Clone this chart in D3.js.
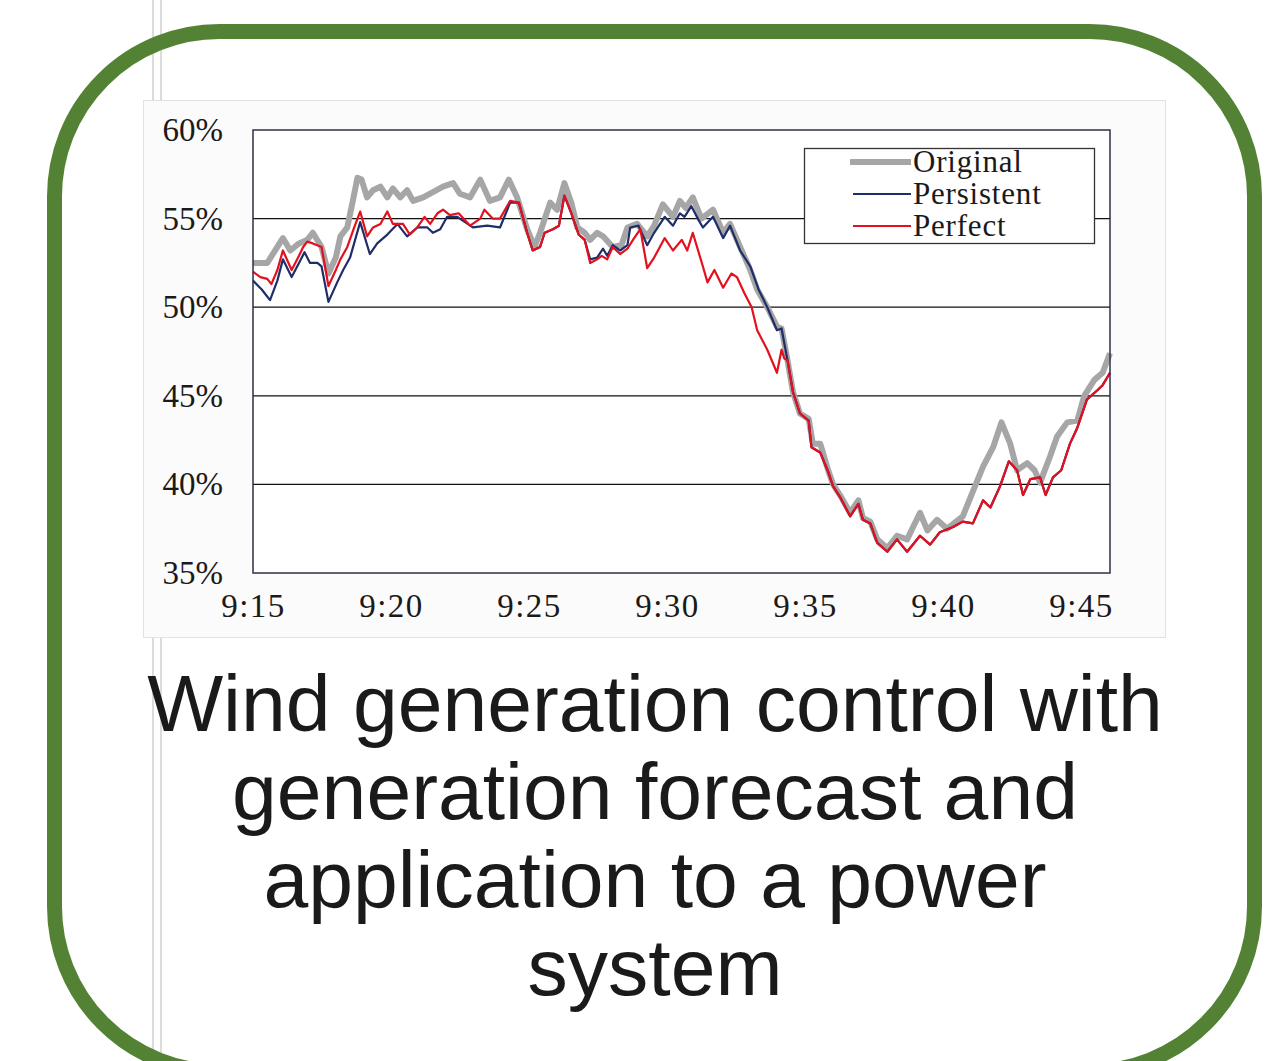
<!DOCTYPE html>
<html>
<head>
<meta charset="utf-8">
<script src="https://cdn.jsdelivr.net/npm/d3@7"></script>
<style>
  html, body { margin: 0; padding: 0; background: #fff; }
  svg { display: block; }
</style>
</head>
<body>
<svg id="slide" width="1287" height="1061"></svg>
<script>
// minutes after 9:15, value in %
var original = [
  [0, 52.5], [0.52, 52.5], [0.88, 53.4], [1.09, 53.9], [1.35, 53.2], [1.66, 53.6], [1.97, 53.8], [2.17, 54.2],
  [2.48, 53.4], [2.74, 51.9], [3.0, 52.8], [3.16, 54.0], [3.42, 54.5], [3.62, 56.0], [3.78, 57.3], [3.93, 57.2],
  [4.14, 56.2], [4.35, 56.6], [4.61, 56.8], [4.87, 56.2], [5.07, 56.7], [5.33, 56.2], [5.59, 56.6], [5.8, 56.0],
  [6.16, 56.2], [6.52, 56.5], [6.88, 56.8], [7.25, 57.0], [7.5, 56.4], [7.87, 56.2], [8.23, 57.2], [8.59, 56.0],
  [8.95, 56.2], [9.26, 57.2], [9.57, 56.2], [9.94, 54.4], [10.2, 53.4], [10.4, 54.2], [10.77, 55.9], [11.02, 55.5],
  [11.28, 57.0], [11.54, 55.9], [11.75, 54.5], [12.01, 54.2], [12.21, 53.8], [12.47, 54.2], [12.68, 54.0], [13.04, 53.4],
  [13.35, 53.5], [13.56, 54.5], [13.92, 54.7], [14.28, 54.0], [14.54, 54.6], [14.85, 55.8], [15.22, 55.1], [15.47, 56.0],
  [15.68, 55.6], [15.94, 56.2], [16.25, 55.0], [16.67, 55.5], [17.03, 54.2], [17.29, 54.7], [17.65, 53.4], [18.01, 52.1],
  [18.27, 51.0], [18.63, 50.0], [18.99, 48.9], [19.15, 48.8], [19.36, 47.0], [19.56, 45.2], [19.82, 44.0], [20.13, 43.7],
  [20.29, 42.3], [20.55, 42.3], [20.81, 40.9], [21.01, 40.0], [21.27, 39.4], [21.63, 38.4], [21.94, 39.1], [22.1, 38.1],
  [22.36, 37.9], [22.62, 36.9], [22.98, 36.4], [23.34, 37.1], [23.7, 36.9], [24.17, 38.4], [24.43, 37.4], [24.79, 38.0],
  [25.15, 37.5], [25.72, 38.2], [26.08, 39.6], [26.45, 41.0], [26.81, 42.1], [27.12, 43.5], [27.43, 42.3], [27.69, 40.8],
  [28.05, 41.2], [28.31, 40.8], [28.52, 40.1], [28.88, 41.6], [29.14, 42.7], [29.5, 43.5], [29.86, 43.6], [30.12, 45.0],
  [30.48, 45.9], [30.79, 46.3], [31.05, 47.4]
];

var persistent = [
  [0, 51.5], [0.31, 51.0], [0.62, 50.4], [0.88, 51.5], [1.09, 52.7], [1.4, 51.7], [1.66, 52.5], [1.86, 53.1],
  [2.07, 52.5], [2.33, 52.5], [2.48, 52.3], [2.74, 50.3], [3.05, 51.4], [3.26, 52.1], [3.52, 52.8], [3.88, 54.8],
  [4.24, 53.0], [4.5, 53.6], [4.87, 54.1], [5.23, 54.7], [5.59, 54.0], [5.95, 54.5], [6.31, 54.5], [6.52, 54.2],
  [6.78, 54.4], [7.04, 55.1], [7.4, 55.1], [7.97, 54.5], [8.49, 54.6], [8.95, 54.5], [9.32, 55.9], [9.63, 55.9],
  [9.94, 54.2], [10.14, 53.2], [10.4, 53.4], [10.56, 54.2], [10.87, 54.4], [11.08, 54.6], [11.28, 56.3], [11.54, 55.3],
  [11.8, 54.1], [12.01, 53.8], [12.21, 52.7], [12.47, 52.8], [12.68, 53.3], [12.84, 52.9], [13.04, 53.5], [13.3, 53.2],
  [13.56, 53.5], [13.66, 54.5], [13.97, 54.6], [14.28, 53.5], [14.54, 54.2], [14.91, 55.1], [15.22, 54.6], [15.47, 55.3],
  [15.63, 55.1], [15.89, 55.7], [16.15, 54.9], [16.3, 54.5], [16.67, 55.1], [17.03, 53.9], [17.29, 54.6], [17.65, 53.2],
  [18.01, 52.3], [18.32, 51.0], [18.63, 50.0], [18.99, 48.7], [19.15, 48.8], [19.36, 47.0], [19.56, 45.2], [19.82, 44.0],
  [20.13, 43.6], [20.24, 42.1], [20.55, 41.8], [20.81, 40.8], [21.01, 39.9], [21.27, 39.3], [21.63, 38.2], [21.94, 38.9],
  [22.1, 38.0], [22.36, 37.8], [22.62, 36.7], [22.98, 36.2], [23.34, 36.9], [23.7, 36.2], [24.17, 37.1], [24.53, 36.6],
  [24.89, 37.3], [25.36, 37.6], [25.72, 37.9], [26.08, 37.8], [26.45, 39.1], [26.71, 38.7], [27.07, 39.9], [27.38, 41.3],
  [27.69, 40.8], [27.9, 39.4], [28.16, 40.3], [28.52, 40.4], [28.72, 39.4], [28.98, 40.4], [29.29, 40.8], [29.6, 42.3],
  [29.86, 43.2], [30.22, 44.8], [30.59, 45.3], [30.79, 45.6], [31.05, 46.3]
];

var perfect = [
  [0, 52.0], [0.26, 51.7], [0.52, 51.6], [0.67, 51.3], [0.88, 52.1], [1.09, 53.2], [1.4, 52.1], [1.66, 52.9],
  [1.81, 53.4], [1.97, 53.7], [2.17, 53.6], [2.48, 53.4], [2.74, 51.2], [3.0, 52.1], [3.16, 52.7], [3.42, 53.4],
  [3.67, 54.5], [3.88, 55.4], [4.14, 54.0], [4.35, 54.5], [4.61, 54.7], [4.87, 55.4], [5.07, 54.7], [5.43, 54.7],
  [5.69, 54.1], [5.95, 54.5], [6.21, 55.1], [6.42, 54.7], [6.68, 55.3], [6.88, 55.5], [7.14, 55.2], [7.45, 55.3],
  [7.87, 54.6], [8.23, 55.0], [8.38, 55.5], [8.69, 55.0], [8.95, 55.0], [9.32, 56.0], [9.63, 55.9], [9.94, 54.2],
  [10.14, 53.2], [10.4, 53.4], [10.56, 54.2], [10.87, 54.4], [11.08, 54.6], [11.28, 56.3], [11.54, 55.3], [11.8, 54.1],
  [12.01, 53.8], [12.21, 52.5], [12.47, 52.7], [12.63, 52.9], [12.84, 52.7], [13.04, 53.4], [13.3, 53.0], [13.56, 53.3],
  [13.77, 53.8], [14.03, 54.4], [14.28, 52.2], [14.54, 52.8], [14.91, 53.9], [15.22, 53.2], [15.53, 53.8], [15.73, 53.2],
  [15.94, 54.2], [16.3, 52.3], [16.46, 51.4], [16.72, 52.1], [17.03, 51.1], [17.34, 51.9], [17.54, 51.7], [17.8, 50.8],
  [18.06, 50.0], [18.27, 48.7], [18.63, 47.6], [18.99, 46.3], [19.15, 47.6], [19.25, 47.1], [19.36, 47.0], [19.56, 45.2],
  [19.82, 44.0], [20.13, 43.6], [20.24, 42.1], [20.55, 41.8], [20.81, 40.8], [21.01, 39.9], [21.27, 39.3], [21.63, 38.2],
  [21.94, 38.9], [22.1, 38.0], [22.36, 37.8], [22.62, 36.7], [22.98, 36.2], [23.34, 36.9], [23.7, 36.2], [24.17, 37.1],
  [24.53, 36.6], [24.89, 37.3], [25.36, 37.6], [25.72, 37.9], [26.08, 37.8], [26.45, 39.1], [26.71, 38.7], [27.07, 39.9],
  [27.38, 41.3], [27.69, 40.8], [27.9, 39.4], [28.16, 40.3], [28.52, 40.4], [28.72, 39.4], [28.98, 40.4], [29.29, 40.8],
  [29.6, 42.3], [29.86, 43.2], [30.22, 44.8], [30.59, 45.3], [30.79, 45.6], [31.05, 46.3]
];

var seriesNames = ['Original', 'Persistent', 'Perfect'];
var yTicks = [35, 40, 45, 50, 55, 60];
var gridValues = [40, 45, 50, 55];
var xTickMinutes = [0, 5, 10, 15, 20, 25, 30];
var xEndMinute = 31.05;
var titleLines = ['Wind generation control with', 'generation forecast and', 'application to a power', 'system'];

var svg = d3.select('#slide');

// page edges behind the slide frame
svg.selectAll('.edge')
  .data([153, 161])
  .enter().append('line')
  .attr('x1', function (d) { return d; })
  .attr('x2', function (d) { return d; })
  .attr('y1', 0).attr('y2', 1061)
  .attr('stroke', '#cfcfcf')
  .attr('stroke-width', 1.5);

// green rounded frame
svg.append('rect')
  .attr('x', 54.5).attr('y', 31.5)
  .attr('width', 1200).attr('height', 1040)
  .attr('rx', 165).attr('ry', 165)
  .attr('fill', 'none')
  .attr('stroke', '#548235')
  .attr('stroke-width', 15);

// pasted chart picture background
svg.append('rect')
  .attr('x', 143.5).attr('y', 100.5)
  .attr('width', 1022).attr('height', 537)
  .attr('fill', '#fbfbfb')
  .attr('stroke', '#e2e2e2')
  .attr('stroke-width', 1);

var margin = { top: 130, left: 253, right: 1110, bottom: 573 };

var base = new Date(2000, 0, 1, 9, 15);
function toTime(m) { return d3.timeSecond.offset(base, Math.round(m * 60)); }

var x = d3.scaleTime()
  .domain([base, toTime(xEndMinute)])
  .range([margin.left, margin.right]);

var y = d3.scaleLinear()
  .domain([35, 60])
  .range([margin.bottom, margin.top]);

var chart = svg.append('g');

chart.append('rect')
  .attr('x', margin.left).attr('y', margin.top)
  .attr('width', margin.right - margin.left)
  .attr('height', margin.bottom - margin.top)
  .attr('fill', '#fff');

// gridlines
chart.selectAll('.grid')
  .data(gridValues)
  .enter().append('line')
  .attr('x1', margin.left).attr('x2', margin.right)
  .attr('y1', function (d) { return y(d); })
  .attr('y2', function (d) { return y(d); })
  .attr('stroke', '#111')
  .attr('stroke-width', 1.2);

var line = d3.line()
  .x(function (d) { return x(toTime(d[0])); })
  .y(function (d) { return y(d[1]); });

var styles = [
  { data: original, color: '#a6a6a6', width: 6 },
  { data: persistent, color: '#1f2d6b', width: 2.2 },
  { data: perfect, color: '#e3101e', width: 2.2 }
];

chart.selectAll('.series')
  .data(styles)
  .enter().append('path')
  .attr('d', function (d) { return line(d.data); })
  .attr('fill', 'none')
  .attr('stroke', function (d) { return d.color; })
  .attr('stroke-width', function (d) { return d.width; })
  .attr('stroke-linejoin', 'round');

// plot frame
chart.append('rect')
  .attr('x', margin.left).attr('y', margin.top)
  .attr('width', margin.right - margin.left)
  .attr('height', margin.bottom - margin.top)
  .attr('fill', 'none')
  .attr('stroke', '#2f2f4a')
  .attr('stroke-width', 1.5);

// axes
var yAxis = chart.append('g')
  .attr('transform', 'translate(' + margin.left + ',0)')
  .call(d3.axisLeft(y).tickValues(yTicks).tickFormat(function (d) { return d + '%'; }).tickSize(0).tickPadding(30));

var xAxis = chart.append('g')
  .attr('transform', 'translate(0,' + margin.bottom + ')')
  .call(d3.axisBottom(x)
    .tickValues(xTickMinutes.map(toTime))
    .tickFormat(d3.timeFormat('%-H:%M'))
    .tickSize(0).tickPadding(21));

[yAxis, xAxis].forEach(function (a) {
  a.select('.domain').remove();
  a.selectAll('text')
    .attr('font-family', '"Liberation Serif", "Times New Roman", serif')
    .attr('font-size', 33)
    .attr('fill', '#1a1a1a');
});
xAxis.selectAll('text').attr('letter-spacing', 1.5);

// legend
var legend = chart.append('g');
legend.append('rect')
  .attr('x', 804.5).attr('y', 148.5)
  .attr('width', 290).attr('height', 95)
  .attr('fill', '#fff')
  .attr('stroke', '#333')
  .attr('stroke-width', 1.3);

var items = legend.selectAll('.item')
  .data(styles)
  .enter().append('g')
  .attr('transform', function (d, i) { return 'translate(0,' + (163 + i * 32) + ')'; });

items.append('line')
  .attr('x1', function (d, i) { return i === 0 ? 850 : 853; })
  .attr('x2', 911)
  .attr('y1', -1).attr('y2', -1)
  .attr('stroke', function (d) { return d.color; })
  .attr('stroke-width', function (d, i) { return i === 0 ? 6 : 2.2; });

items.append('text')
  .attr('x', 913)
  .attr('dy', '0.3em')
  .attr('font-family', '"Liberation Serif", "Times New Roman", serif')
  .attr('font-size', 31)
  .attr('letter-spacing', 0.8)
  .attr('fill', '#1a1a1a')
  .text(function (d, i) { return seriesNames[i]; });

// title
svg.selectAll('.title')
  .data(titleLines)
  .enter().append('text')
  .attr('x', 655)
  .attr('y', function (d, i) { return 731 + i * 88; })
  .attr('text-anchor', 'middle')
  .attr('font-family', '"Liberation Sans", Arial, sans-serif')
  .attr('font-size', 80.5)
  .attr('fill', '#1a1a1a')
  .text(function (d) { return d; });
</script>
</body>
</html>
